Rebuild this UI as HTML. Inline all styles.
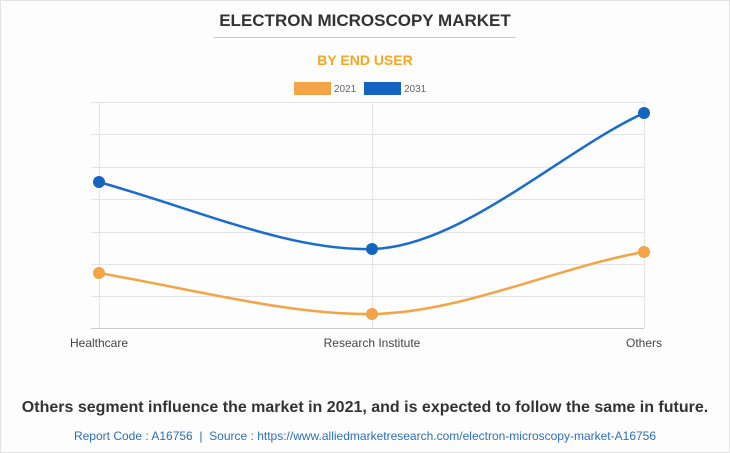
<!DOCTYPE html>
<html><head><style>
body{margin:0;background:#fff;}
.w{position:relative;width:728px;height:451px;border:1px solid #e3e3e3;background:#fdfdfd;font-family:"Liberation Sans",Arial,sans-serif;overflow:hidden}
.t{position:absolute;left:0;width:728px;text-align:center}
</style></head><body><div class="w">
<div class="t" style="top:10px;font-size:17px;font-weight:bold;color:#333">ELECTRON MICROSCOPY MARKET</div>
<div style="position:absolute;left:213px;top:36px;width:302px;height:1px;background:#c8c8c8"></div>
<div class="t" style="top:51px;font-size:14px;font-weight:bold;color:#f5a623">BY END USER</div>
<svg style="position:absolute;left:0;top:0" width="730" height="453">
<rect x="293" y="81" width="37" height="13" fill="#f2a446"/>
<text x="333" y="91" font-size="10" fill="#666" font-family="Liberation Sans,Arial">2021</text>
<rect x="363" y="81" width="37" height="13" fill="#1565c0"/>
<text x="403" y="91" font-size="10" fill="#666" font-family="Liberation Sans,Arial">2031</text>
<g stroke="#e4e4e4" stroke-width="1">
<line x1="90" y1="101.5" x2="643" y2="101.5"/><line x1="90" y1="133.5" x2="643" y2="133.5"/>
<line x1="90" y1="166.5" x2="643" y2="166.5"/><line x1="90" y1="198.5" x2="643" y2="198.5"/>
<line x1="90" y1="231.5" x2="643" y2="231.5"/><line x1="90" y1="263.5" x2="643" y2="263.5"/>
<line x1="90" y1="295.5" x2="643" y2="295.5"/>
<line x1="98.5" y1="101" x2="98.5" y2="327"/><line x1="371.5" y1="101" x2="371.5" y2="327"/><line x1="643.5" y1="101" x2="643.5" y2="327"/>
</g>
<line x1="90" y1="327.5" x2="643" y2="327.5" stroke="#ccc"/>
<path d="M98,181 C200,210 290,250 371,248 C460,246 560,150 643,112" fill="none" stroke="#1a6ccc" stroke-width="2.5"/>
<path d="M98,272 C200,290 290,314 371,313 C460,312 560,265 643,251" fill="none" stroke="#f2a446" stroke-width="2.5"/>
<circle cx="98" cy="181" r="6" fill="#1565c0"/><circle cx="371" cy="248" r="6" fill="#1565c0"/><circle cx="643" cy="112" r="6" fill="#1565c0"/>
<circle cx="98" cy="272" r="6" fill="#f2a446"/><circle cx="371" cy="313" r="6" fill="#f2a446"/><circle cx="643" cy="251" r="6" fill="#f2a446"/>
<g font-size="12" fill="#444" font-family="Liberation Sans,Arial" text-anchor="middle">
<text x="98" y="346">Healthcare</text><text x="371" y="346">Research Institute</text><text x="643" y="346">Others</text>
</g>
</svg>
<div class="t" style="top:398px;font-size:16px;font-weight:bold;color:#333">Others segment influence the market in 2021, and is expected to follow the same in future.</div>
<div class="t" style="top:428px;font-size:12px;color:#2c6fbb">Report Code : A16756 &nbsp;|&nbsp; Source : https://www.alliedmarketresearch.com/electron-microscopy-market-A16756</div>
</div></body></html>
